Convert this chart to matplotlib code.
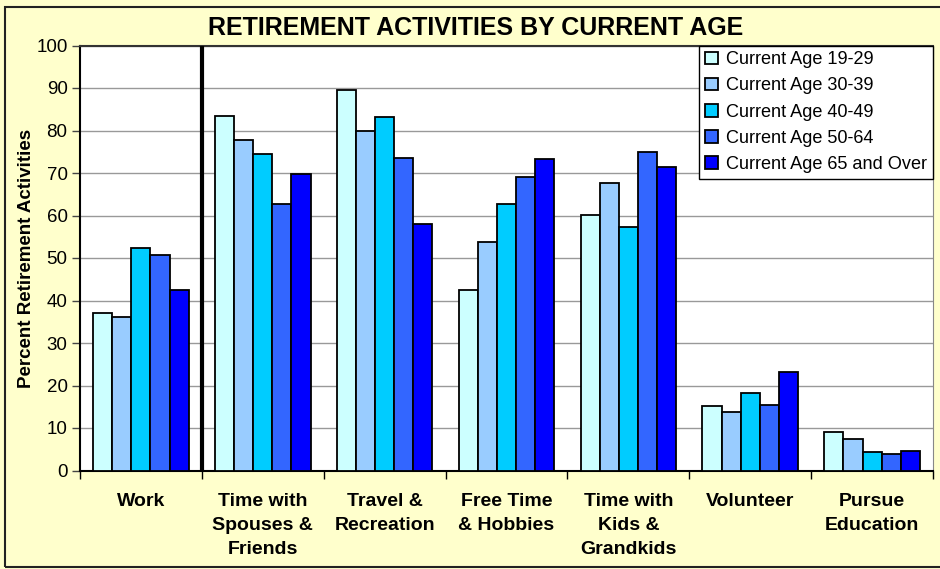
import matplotlib
matplotlib.use("Agg")
import matplotlib.pyplot as plt
import numpy as np
from matplotlib.patches import Rectangle

plt.rcParams['font.family'] = ['Liberation Sans', 'DejaVu Sans']

categories = ["Work", "Time with\nSpouses &\nFriends", "Travel &\nRecreation",
              "Free Time\n& Hobbies", "Time with\nKids &\nGrandkids", "Volunteer",
              "Pursue\nEducation"]
series_names = ["Current Age 19-29", "Current Age 30-39", "Current Age 40-49",
                "Current Age 50-64", "Current Age 65 and Over"]
age_19_29 = [37.0, 83.4, 89.5, 42.5, 60.1, 15.2, 9.1]
age_30_39 = [36.2, 77.8, 79.9, 53.8, 67.6, 13.7, 7.3]
age_40_49 = [52.4, 74.5, 83.1, 62.6, 57.3, 18.2, 4.3]
age_50_64 = [50.6, 62.6, 73.5, 69.0, 74.9, 15.5, 3.9]
age_65_over = [42.5, 69.7, 58.0, 73.2, 71.4, 23.2, 4.6]
series = [age_19_29, age_30_39, age_40_49, age_50_64, age_65_over]
colors = ["#CCFFFF", "#99CCFF", "#00CCFF", "#3366FF", "#0000FF"]

fig = plt.figure(figsize=(9.4, 5.69), dpi=100)
fig.patch.set_facecolor("#FFFFCC")
# outer frame
fig.add_artist(Rectangle((5/940, 1-567/569), 2, (567-6.5)/569, transform=fig.transFigure,
                         fill=False, edgecolor="#222222", lw=1.5))

ax = fig.add_axes([80/940, 1-470.5/569, (933-80)/940, (470.5-45.5)/569])
ax.set_facecolor("white")

x = np.arange(len(categories))
w = 0.157
for i, (vals, c, name) in enumerate(zip(series, colors, series_names)):
    ax.bar(x + (i - 2) * w, vals, width=w, color=c, edgecolor="black", linewidth=1.3,
           label=name, zorder=3)

ax.set_xlim(-0.5, len(categories) - 0.5)
ax.set_ylim(0, 100)
ax.set_yticks(np.arange(0, 101, 10))
ax.yaxis.grid(True, color="#999999", linewidth=1.0, zorder=0)
ax.set_axisbelow(True)
ax.axvline(0.5, color="black", linewidth=3, zorder=4)

ax.set_xticks(np.arange(-0.5, len(categories), 1.0))
ax.set_xticklabels([])
ax.set_xticks(x, minor=True)
ax.set_xticklabels(categories, minor=True, fontsize=14, fontweight="bold", linespacing=1.56)
ax.tick_params(axis="x", which="minor", length=0, pad=16)
ax.tick_params(axis="x", which="major", length=6, width=1, color="black", direction="out")
ax.tick_params(axis="y", length=6, width=1, labelsize=13.5, pad=3, direction="out", color="#444444")
for lab in ax.get_xticklabels(minor=True):
    lab.set_verticalalignment("top")

for s in ["left", "bottom"]:
    ax.spines[s].set_color("black")
    ax.spines[s].set_linewidth(1.5)
ax.spines["top"].set_color("#333333")
ax.spines["top"].set_linewidth(1.5)
ax.spines["right"].set_color("#888888")

ax.set_ylabel("Percent Retirement Activities", fontsize=13.5, fontweight="bold")
ax.yaxis.set_label_coords(-45/853, 0.5)

fig.text(476/940, 1-28/569, "RETIREMENT ACTIVITIES BY CURRENT AGE", ha="center", va="center",
         fontsize=18, fontweight="bold")

leg = ax.legend(loc="upper right", bbox_to_anchor=(1, 1), borderaxespad=0, fontsize=13.1,
                frameon=True, fancybox=False, edgecolor="black", framealpha=1,
                handlelength=0.7, handleheight=0.7, handletextpad=0.45,
                labelspacing=0.5, borderpad=0.32)
leg.get_frame().set_linewidth(1.0)

fig.savefig("out.png", dpi=100, facecolor=fig.get_facecolor())
